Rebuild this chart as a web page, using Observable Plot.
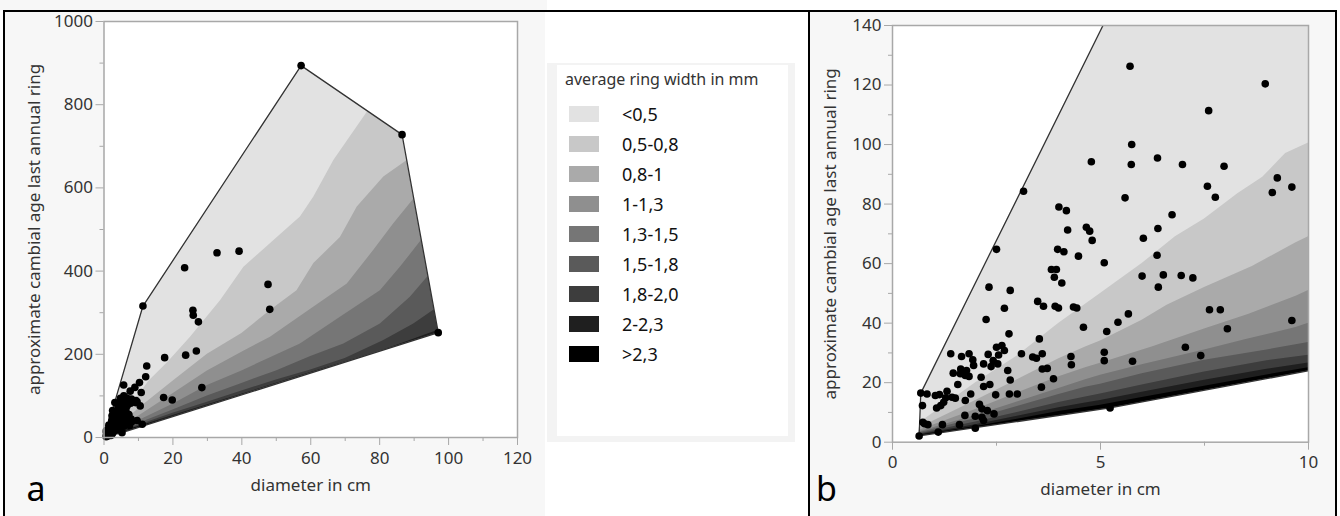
<!DOCTYPE html>
<html>
<head>
<meta charset="utf-8">
<script src="https://cdn.jsdelivr.net/npm/d3@7"></script>
<script src="https://cdn.jsdelivr.net/npm/@observablehq/plot@0.6"></script>
<style>
  body { margin: 0; background: #fff; font-family: "Noto Sans", sans-serif; }
  #fig { position: relative; width: 1340px; height: 516px; overflow: hidden; }
  .abs { position: absolute; }
  .bg { background: #f7f7f7; }
  .rule { background: #000; }
  #legend-outer { left: 547px; top: 63px; width: 248px; height: 379px; background: #f3f3f3; }
  #legend-inner { left: 557px; top: 65px; width: 231px; height: 371px; background: #fff; }
  #legend-title { position: absolute; left: 8px; top: 3px; line-height: 22px; font-size: 16px; color: #333; white-space: nowrap; }
  .row { position: absolute; left: 0; height: 30px; width: 100%; }
  .swatch { position: absolute; left: 12px; top: 7px; width: 30px; height: 16px; }
  .row span { position: absolute; left: 65px; top: 0; line-height: 30px; font-size: 18px; color: #111; }
</style>
</head>
<body>
<div id="fig">
  <div class="abs bg" style="left:0;top:0;width:547px;height:10px"></div>
  <div class="abs bg" style="left:5px;top:12px;width:540px;height:504px"></div>
  <div class="abs bg" style="left:810px;top:12px;width:525px;height:504px"></div>
  <div id="legend-outer" class="abs"></div>
  <div id="legend-inner" class="abs">
    <div id="legend-title">average ring width in mm</div>
  </div>
  <div id="panel-a" class="abs" style="left:0;top:0"></div>
  <div id="panel-b" class="abs" style="left:810px;top:0"></div>
  <div class="abs rule" style="left:3px;top:10px;width:1334px;height:2px"></div>
  <div class="abs rule" style="left:3px;top:10px;width:2px;height:506px"></div>
  <div class="abs rule" style="left:808px;top:10px;width:2px;height:506px"></div>
  <div class="abs rule" style="left:1335px;top:10px;width:2px;height:506px"></div>
</div>
<script>
// Average ring-width classes (mm) and their grey fills
const widthClasses = ["<0,5", "0,5-0,8", "0,8-1", "1-1,3", "1,3-1,5", "1,5-1,8", "1,8-2,0", "2-2,3", ">2,3"];
const classGreys = ["#e2e2e2", "#c8c8c8", "#aaaaaa", "#8f8f8f", "#767676", "#5a5a5a", "#3d3d3d", "#1f1f1f", "#000000"];

// Sampled trees: stem diameter (cm) and approximate cambial age of the last annual ring
const diameter = [
  5.71, 8.96, 7.60, 5.75, 4.78, 5.74, 6.37, 6.97, 7.97, 7.57,
  7.76, 9.25, 9.13, 9.60, 5.59, 3.15, 6.72, 4.00, 4.18, 4.21,
  6.38, 4.66, 4.74, 4.80, 6.03, 3.97, 4.12, 2.50, 4.47, 6.36,
  5.09, 3.82, 3.94, 3.89, 4.07, 6.00, 6.51, 6.94, 7.22, 6.39,
  2.32, 2.83, 3.49, 3.63, 3.91, 3.99, 4.35, 4.43, 2.69, 2.25,
  5.67, 5.42, 4.59, 5.15, 7.62, 7.88, 8.05, 9.60, 2.80, 3.53,
  7.04, 7.41, 2.50, 2.63, 2.69, 2.55, 2.30, 2.42, 3.10, 3.37,
  3.46, 3.60, 4.29, 4.30, 5.09, 5.09, 5.77, 1.40, 1.66, 1.84,
  1.93, 1.95, 1.78, 1.64, 1.63, 1.75, 1.46, 1.84, 2.13, 2.19,
  2.77, 2.83, 3.60, 3.72, 3.58, 3.87, 1.57, 2.34, 2.19, 2.81,
  3.00, 2.48, 1.88, 1.31, 1.13, 1.03, 0.83, 0.68, 1.28, 1.43,
  1.51, 1.23, 1.06, 1.16, 0.72, 2.09, 2.15, 2.28, 1.74, 1.99,
  2.15, 2.19, 2.44, 0.73, 0.77, 0.85, 1.20, 1.61, 1.10, 1.99,
  0.64, 5.23, 1.75, 2.37, 2.53,
  57.2, 86.5, 97.0, 11.3, 32.8, 39.2, 23.4, 47.6, 48.1, 25.8,
  25.9, 27.4, 23.7, 26.8, 17.6, 28.4, 17.3, 19.8, 12.4, 12.1,
  10.3, 10.8, 10.5, 11.1
];
const cambialAge = [
  126.3, 120.4, 111.4, 100.0, 94.2, 93.3, 95.5, 93.3, 92.7, 86.0,
  82.3, 88.8, 83.9, 85.7, 82.1, 84.3, 76.4, 79.0, 77.8, 71.3,
  71.8, 72.2, 70.9, 67.8, 68.5, 64.8, 64.0, 64.8, 62.5, 62.8,
  60.3, 58.0, 58.0, 55.4, 53.5, 55.8, 56.2, 56.0, 55.2, 52.1,
  52.1, 51.0, 47.3, 45.7, 45.7, 45.1, 45.4, 45.1, 45.0, 41.2,
  43.1, 40.3, 38.6, 37.2, 44.5, 44.5, 38.1, 40.9, 36.4, 34.7,
  31.9, 29.1, 31.9, 32.5, 30.8, 29.3, 29.5, 27.4, 29.7, 28.6,
  28.2, 29.7, 28.8, 26.0, 30.2, 27.4, 27.2, 29.7, 28.8, 29.7,
  27.7, 25.8, 24.1, 24.6, 23.0, 22.4, 23.2, 22.1, 21.8, 26.3,
  24.1, 20.9, 24.6, 24.8, 18.5, 21.3, 19.4, 19.4, 18.7, 16.2,
  16.2, 15.9, 16.2, 17.1, 16.0, 15.7, 16.2, 16.5, 14.9, 15.1,
  14.8, 13.4, 11.5, 12.3, 12.3, 12.7, 11.2, 10.6, 9.0, 8.7,
  8.4, 7.3, 9.5, 6.7, 6.2, 5.9, 5.9, 5.9, 3.4, 4.7,
  2.1, 11.5, 14.0, 25.4, 26.3,
  894, 728, 252, 316, 444, 448, 408, 368, 308, 306,
  294, 278, 198, 208, 192, 120, 96, 90, 172, 146,
  132, 108, 76, 32
];

// Convex hull around all trees (closed ring)
const hullDiameter = [0.64, 5.23, 97.0, 86.5, 57.2, 11.3, 0.68, 0.64];
const hullAge = [2.1, 11.5, 252, 728, 894, 316, 16.5, 2.1];

// Upper edge of each class band above "<0,5" as [diameter, age] pairs
const edge05 = [[0.6, 6], [1, 10], [2, 20], [3, 29], [4, 40], [5, 50], [6, 60], [6.8, 69], [7.5, 75], [8.3, 83.5], [8.9, 89], [9.45, 97], [10, 100.5],
  [13, 135], [18.5, 180], [25.1, 241], [33.8, 329], [40.6, 409], [50.3, 481], [57, 530], [60.9, 578], [66.7, 666], [76.4, 782], [85, 900], [100, 1100]];
const edge08 = [[0.6, 4.5], [2, 14], [3, 21], [4, 28], [4.64, 32], [5, 34], [6, 41], [6.6, 46], [7.5, 52], [8.65, 59], [9.7, 67], [10, 69],
  [20, 135], [30, 200], [40, 250], [48.3, 305], [56, 353], [60.9, 418], [68.6, 481], [73.5, 554], [81.2, 626], [88, 666], [100, 760]];
const edge10 = [[0.6, 3.8], [2, 11], [3, 16.5], [4, 22], [4.64, 25], [5, 26.5], [6.24, 32], [7.5, 38], [8.57, 43], [9.7, 49], [10, 51],
  [20, 105], [30, 160], [40, 205], [48.3, 241], [58, 297], [70.6, 369], [78.3, 450], [84.1, 514], [90.4, 578], [100, 650]];
const edge13 = [[0.6, 3.3], [2, 9], [3, 13.5], [4, 18], [4.64, 21], [5, 22.5], [6, 26], [7.5, 31], [8.5, 34.5], [9.7, 38.5], [10, 40],
  [20, 80], [30, 125], [40, 160], [57, 225], [68.6, 289], [80.2, 353], [86, 409], [93.3, 486], [100, 560]];
const edge15 = [[0.6, 3], [2, 8], [3, 12], [4, 16], [4.64, 18.5], [5, 19.5], [6, 23], [7.5, 27.5], [9, 31], [10, 33.5],
  [20, 66], [30, 100], [40, 130], [50, 160], [60, 195], [69.6, 225], [80.2, 273], [88.9, 337], [94.8, 394], [100, 450]];
const edge18 = [[0.6, 2.7], [2, 6.8], [3, 10], [4, 13.3], [4.64, 15.2], [5, 16.2], [6, 19.2], [7.5, 23.6], [9, 27.4], [10, 29.2],
  [20, 58], [30, 85], [40, 112], [50, 138], [60, 162], [70, 190], [81.2, 233], [89.9, 273], [96.2, 309], [100, 340]];
const edge20 = [[0.6, 2.4], [2, 5.9], [3, 8.7], [4, 11.6], [4.64, 13.2], [5, 14], [6, 16.8], [7.5, 20.8], [9, 24.5], [10, 26.6],
  [20, 53], [40, 104], [60, 156], [80, 207], [97, 258], [100, 266]];
const edge23 = [[0.6, 2.2], [2, 5.3], [3, 7.7], [4, 10.3], [4.64, 11.7], [5, 12.4], [6, 15], [7.5, 18.8], [9, 22.6], [10, 25],
  [20, 50], [40, 99], [60, 150], [80, 200], [97, 247], [100, 255]];
const classEdges = [edge05, edge08, edge10, edge13, edge15, edge18, edge20, edge23];

// Axis ticks
const aTicksX = [0, 20, 40, 60, 80, 100, 120], aMinorX = [10, 30, 50, 70, 90, 110];
const aTicksY = [0, 200, 400, 600, 800, 1000], aMinorY = [100, 300, 500, 700, 900];
const bTicksX = [0, 5, 10], bMinorX = [2.5, 7.5];
const bTicksY = [0, 20, 40, 60, 80, 100, 120, 140], bMinorY = [10, 30, 50, 70, 90, 110, 130];

const xTitle = "diameter in cm";
const yTitle = "approximate cambial age last annual ring";

const trees = diameter.map((d, i) => ({d, age: cambialAge[i]}));
const hull = hullDiameter.map((d, i) => ({d, age: hullAge[i]}));

function bandRows(maxD) {
  const rows = [];
  classEdges.forEach((edge, i) => {
    for (const [d, age] of edge) if (d <= maxD) rows.push({cls: widthClasses[i + 1], d, age});
  });
  return rows;
}

const ns = "http://www.w3.org/2000/svg";
// Restrict the class bands to the interior of the hull
function clipBandsToHull(svg, id) {
  const sx = svg.scale("x"), sy = svg.scale("y");
  const d = "M" + hull.map(p => `${sx.apply(p.d)},${sy.apply(p.age)}`).join("L") + "Z";
  const defs = document.createElementNS(ns, "defs");
  const clip = document.createElementNS(ns, "clipPath");
  clip.setAttribute("id", id);
  const shape = document.createElementNS(ns, "path");
  shape.setAttribute("d", d);
  clip.appendChild(shape);
  defs.appendChild(clip);
  svg.insertBefore(defs, svg.firstChild);
  svg.querySelectorAll('g[aria-label="area"]').forEach(g => g.setAttribute("clip-path", `url(#${id})`));
}

function panel(o) {
  const shown = trees.filter(t => t.d <= o.xDomain[1] && t.age <= o.yDomain[1]);
  const axisStyle = {stroke: "#a8a8a8", fill: "#333", fontSize: 17, label: null, tickFormat: d => String(d)};
  const svg = Plot.plot({
    width: o.width, height: 516,
    marginLeft: o.ml, marginRight: o.mr, marginTop: o.mt, marginBottom: o.mb,
    x: {domain: o.xDomain, label: null},
    y: {domain: o.yDomain, label: null},
    color: {domain: widthClasses, range: classGreys},
    style: {background: "transparent", fontFamily: "'Noto Sans', sans-serif", maxWidth: "none", overflow: "visible"},
    marks: [
      Plot.frame({fill: "white", stroke: "none"}),
      Plot.line(hull, {x: "d", y: "age", fill: classGreys[0], stroke: "none", clip: true}),
      Plot.areaY(bandRows(o.xDomain[1]), {x: "d", y1: 0, y2: "age", z: "cls", fill: "cls"}),
      Plot.line(hull, {x: "d", y: "age", stroke: "#333", strokeWidth: 1.3, clip: true}),
      Plot.dot(shown, {x: "d", y: "age", r: 3.8, fill: "#000", stroke: "none"}),
      Plot.axisX(o.minorX, {tickSize: 4, tickFormat: () => "", stroke: "#a8a8a8", label: null}),
      Plot.axisX(o.ticksX, {...axisStyle, tickSize: 8, tickPadding: 6}),
      Plot.axisY(o.minorY, {tickSize: 4, tickFormat: () => "", stroke: "#a8a8a8", label: null}),
      Plot.axisY(o.ticksY, {...axisStyle, tickSize: 8, tickPadding: 3}),
      Plot.frame({stroke: "#a8a8a8", strokeWidth: 1.5}),
      Plot.text([xTitle], {text: d => d, frameAnchor: "bottom", textAnchor: "middle", dy: 53, fontSize: 17, fill: "#333"}),
      Plot.text([yTitle], {text: d => d, frameAnchor: "left", textAnchor: "middle", rotate: -90, dx: o.yTitleDx, fontSize: 17, fill: "#333"}),
      Plot.text([o.letter], {text: d => d, frameAnchor: "bottom-left", textAnchor: "middle", dx: o.letterDx, dy: o.letterDy, fontSize: 34, fill: "#000"})
    ]
  });
  clipBandsToHull(svg, o.id);
  return svg;
}

document.getElementById("panel-a").appendChild(panel({
  id: "hull-a", letter: "a", width: 545, ml: 103.5, mr: 28, mt: 21, mb: 79,
  xDomain: [0, 120], yDomain: [0, 1000],
  ticksX: aTicksX, minorX: aMinorX, ticksY: aTicksY, minorY: aMinorY,
  yTitleDx: -69, letterDx: -68, letterDy: 63
}));

document.getElementById("panel-b").appendChild(panel({
  id: "hull-b", letter: "b", width: 525, ml: 82, mr: 27, mt: 25, mb: 74.3,
  xDomain: [0, 10], yDomain: [0, 140],
  ticksX: bTicksX, minorX: bMinorX, ticksY: bTicksY, minorY: bMinorY,
  yTitleDx: -62, letterDx: -66, letterDy: 59
}));

// Legend of ring-width classes
const inner = document.getElementById("legend-inner");
widthClasses.forEach((label, i) => {
  const row = document.createElement("div");
  row.className = "row";
  row.style.top = `${34 + 30 * i}px`;
  const sw = document.createElement("div");
  sw.className = "swatch";
  sw.style.background = classGreys[i];
  const txt = document.createElement("span");
  txt.textContent = label;
  row.appendChild(sw);
  row.appendChild(txt);
  inner.appendChild(row);
});
</script>
</body>
</html>
